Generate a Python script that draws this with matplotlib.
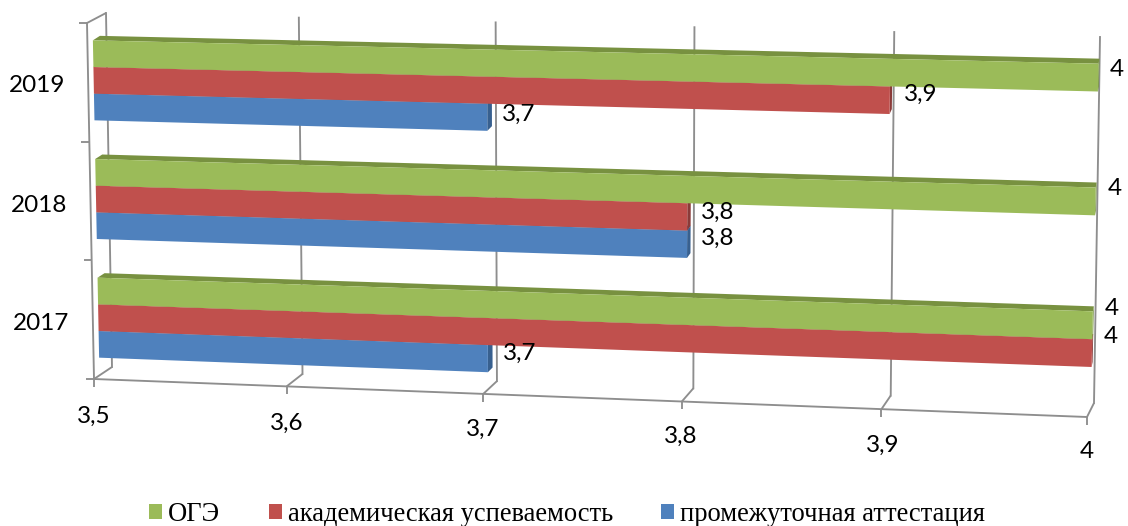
import numpy as np
import matplotlib
matplotlib.use("Agg")
import matplotlib.pyplot as plt
from matplotlib.transforms import Transform
from matplotlib.patches import Polygon, Patch

# ---- data ----
years = ["2017", "2018", "2019"]
series_names = ["ОГЭ", "академическая успеваемость", "промежуточная аттестация"]
oge = [4.0, 4.0, 4.0]
academic = [4.0, 3.8, 3.9]
intermediate = [3.7, 3.8, 3.7]
value_ticks = [3.5, 3.6, 3.7, 3.8, 3.9, 4.0]

# ---- style ----
FRONT_COL = ["#9BBB59", "#C0504D", "#4F81BD"]
TOP_COL = ["#789140", "#94403D", "#3B6593"]
SIDE_COL = ["#7A9646", "#8A3B39", "#38608F"]
GRID = "#8E8E8E"
GRID_LW = 1.35
NUM_FONT = "Lato"
NUM_SIZE = 17.5
VMIN, VMAX = 3.5, 4.0
NCAT = 3
GROUP = 0.674
AXIS_FRACTIONS = [0, 0.194, 0.392, 0.592, 0.793, 1.0]


class Projection(Transform):
    """Pseudo-3D chart plane: (value, category position) -> image pixels."""
    input_dims = 2
    output_dims = 2
    has_inverse = False
    is_separable = False

    def __init__(self, bl, br, tl, tr):
        super().__init__()
        self.c = [np.array(p, float) for p in (bl, br, tl, tr)]

    def transform_non_affine(self, values):
        values = np.asarray(values, float)
        u = np.interp(values[:, 0], value_ticks, AXIS_FRACTIONS)[:, None]
        w = (values[:, 1] / NCAT)[:, None]
        bl, br, tl, tr = self.c
        return (1 - w) * ((1 - u) * bl + u * br) + w * ((1 - u) * tl + u * tr)


FRONT_WALL = Projection((94, 379), (1087, 417), (87, 23), (1093, 51))
BACK_WALL = Projection((112, 367), (1094, 403), (106, 13), (1100, 37))
BAR_FRONT = Projection((99.5, 377), (1090.5, 415), (92.5, 21), (1099, 43.5))
BAR_BACK = Projection((106.5, 372.5), (1091.5, 410), (99.5, 16.5), (1100, 38.5))

fig = plt.figure(figsize=(11.28, 5.26), dpi=100)
ax = fig.add_axes([0, 0, 1, 1])
ax.axis("off")


def line(pts, **kw):
    pts = np.asarray(pts)
    ax.plot(pts[:, 0], pts[:, 1], color=GRID, lw=GRID_LW, solid_capstyle="butt", zorder=1, **kw)


# walls and gridlines
for v in value_ticks:
    ax.plot([v, v], [0, NCAT], color=GRID, lw=GRID_LW, zorder=1,
            transform=BACK_WALL + ax.transData)
    f = FRONT_WALL.transform(np.array([[v, 0.0]]))[0]
    b = BACK_WALL.transform(np.array([[v, 0.0]]))[0]
    line([f, b])
    line([f, f + (0, 8)])
ax.plot([VMIN, VMAX], [0, 0], color=GRID, lw=GRID_LW, zorder=1, transform=FRONT_WALL + ax.transData)
ax.plot([VMIN, VMIN], [0, NCAT], color=GRID, lw=GRID_LW, zorder=1, transform=FRONT_WALL + ax.transData)
for c in range(NCAT + 1):
    f = FRONT_WALL.transform(np.array([[VMIN, float(c)]]))[0]
    line([f, f + (-8, 0)])
line([FRONT_WALL.transform(np.array([[VMIN, 3.0]]))[0],
      BACK_WALL.transform(np.array([[VMIN, 3.0]]))[0]])

# bars: lowest series first so that each upper bar covers the top of the one below
all_series = [oge, academic, intermediate]
bar_h = GROUP / 3
for s in [2, 1, 0]:
    vals = np.array(all_series[s])
    bottoms = np.arange(NCAT) + 0.5 + GROUP / 2 - bar_h * (s + 1)
    z = 3 + (2 - s)
    for v, b in zip(vals, bottoms):
        t = b + bar_h
        top_pts = np.vstack([BAR_FRONT.transform(np.array([[VMIN, t], [v, t]])),
                             BAR_BACK.transform(np.array([[v, t], [VMIN, t]]))])
        side_pts = np.vstack([BAR_FRONT.transform(np.array([[v, b], [v, t]])),
                              BAR_BACK.transform(np.array([[v, t], [v, b]]))])
        ax.add_patch(Polygon(top_pts, closed=True, fc=TOP_COL[s], ec="none", zorder=z))
        ax.add_patch(Polygon(side_pts, closed=True, fc=SIDE_COL[s], ec="none", zorder=z))
    ax.barh(bottoms + bar_h / 2, vals - VMIN, height=bar_h, left=VMIN, color=FRONT_COL[s],
            linewidth=0, zorder=z + 0.5, transform=BAR_FRONT + ax.transData)

ax.set_xlim(0, 1128)
ax.set_ylim(526, 0)

# value axis labels
value_label_pos = [(94, 416), (287, 423), (483, 429), (681, 436), (883, 445), (1087, 451)]
for v, (x, y) in zip(value_ticks, value_label_pos):
    ax.text(x, y, f"{v:g}".replace(".", ","), family=NUM_FONT, fontsize=NUM_SIZE,
            ha="center", va="center", color="black")

# category labels
year_label_pos = [(41, 323), (39, 205), (37, 85)]
for yr, (x, y) in zip(years, year_label_pos):
    ax.text(x, y, yr, family=NUM_FONT, fontsize=NUM_SIZE, ha="center", va="center", color="black")

# data labels: pixel offset from the end of each bar (series, year index)
label_offsets = {
    (0, 2): (10, -3), (1, 2): (12, -1), (2, 2): (10, 2),
    (0, 1): (11, -8), (1, 1): (10, 0), (2, 1): (10, -1),
    (0, 0): (11, -12), (1, 0): (11, -12), (2, 0): (10, -1),
}
for s in range(3):
    for i, v in enumerate(all_series[s]):
        c = i + 0.5 + GROUP / 2 - bar_h * (s + 0.5)
        px = BAR_BACK.transform(np.array([[v, c]]))[0]
        dx, dy = label_offsets[(s, i)]
        ax.text(px[0] + dx, px[1] + dy, f"{v:g}".replace(".", ","), family=NUM_FONT,
                fontsize=NUM_SIZE, ha="left", va="center", color="black", zorder=10)

# legend
handles = [Patch(fc=FRONT_COL[i], ec="none", label=series_names[i]) for i in range(3)]
ax.legend(handles=handles, ncol=3, loc="lower left", bbox_to_anchor=(149, 527),
          bbox_transform=ax.transData, frameon=False, borderpad=0, borderaxespad=0,
          prop={"family": "Liberation Serif", "size": 19.1}, handlelength=0.49, handleheight=0.49,
          handletextpad=0.23, columnspacing=1.82)

fig.savefig("out.png", dpi=100, facecolor="white")
